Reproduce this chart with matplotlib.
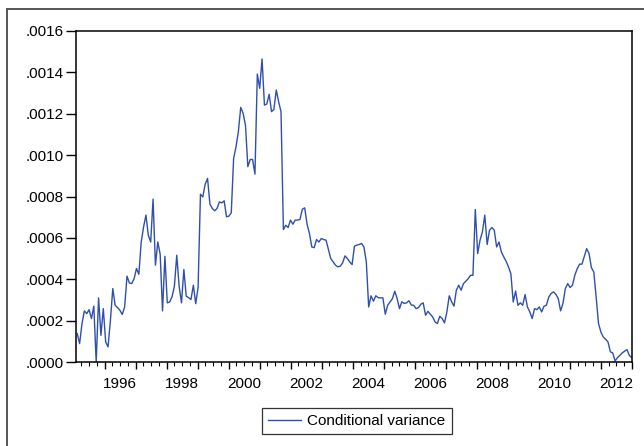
import numpy as np
import matplotlib
matplotlib.use("Agg")
import matplotlib.pyplot as plt
from matplotlib.lines import Line2D
from matplotlib.ticker import FixedLocator, MultipleLocator, FuncFormatter

# ---- data (conditional variance, in units of 1e-4) ----
variance_e4 = [
    1.37, 0.89, 1.85, 2.47, 2.34, 2.53, 2.10, 2.70, 0.00, 3.10, 1.29, 2.58, 0.97, 0.73, 2.00,
    3.55, 2.74, 2.63, 2.50, 2.30, 2.66, 4.15, 3.82, 3.79, 4.03, 4.52, 4.24, 5.80, 6.53, 7.10,
    6.13, 5.80, 7.87, 4.68, 5.80, 5.21, 2.47, 5.11, 2.86, 2.90, 3.15, 3.66, 5.16, 3.66, 2.86,
    4.47, 3.18, 3.11, 3.02, 3.71, 2.82, 3.60, 8.11, 7.98, 8.60, 8.87, 7.63, 7.42, 7.31, 7.42,
    7.74, 7.69, 7.79, 7.02, 7.05, 7.21, 9.84, 10.40, 11.13, 12.31, 12.02, 11.45, 9.44, 9.79,
    9.79, 9.08,
    13.92, 13.23, 14.65, 12.42, 12.47, 12.94, 12.10, 12.21, 13.15, 12.58, 12.10, 6.40, 6.61,
    6.50, 6.86, 6.66, 6.86, 6.86, 6.89, 7.39, 7.45, 6.66, 6.21, 5.56, 5.53, 5.92, 5.80, 5.97,
    5.92, 5.89, 5.44, 5.00, 4.84, 4.68, 4.60, 4.63, 4.79, 5.13, 5.00, 4.84, 4.71, 5.60, 5.65,
    5.68, 5.73, 5.56, 4.84, 2.66, 3.20, 2.94, 3.20, 3.11, 3.10, 3.10, 2.31, 2.74, 2.90, 3.06,
    3.42,
    3.07, 2.58, 2.91, 2.83, 2.86, 2.96, 2.75, 2.74, 2.58, 2.63, 2.79, 2.86, 2.26, 2.45, 2.31,
    2.18, 1.94, 1.86, 2.21, 2.10, 1.89, 2.42, 3.20, 2.91, 2.70, 3.47, 3.71, 3.47, 3.79, 3.90,
    4.03, 4.19, 4.19, 7.37, 5.24, 5.89, 6.29, 7.10, 5.68, 6.37, 6.50, 6.37, 5.56, 5.80, 5.32,
    5.08, 4.87, 4.60, 4.27, 2.90, 3.43, 2.74, 2.86, 2.74, 3.26, 2.66, 2.42, 2.10, 2.58, 2.53,
    2.66, 2.42, 2.70, 2.74, 3.14, 3.31, 3.39, 3.27, 3.07, 2.47, 2.83, 3.55, 3.79, 3.60, 3.71,
    4.19, 4.51, 4.73, 4.73, 5.11, 5.48, 5.24, 4.56, 4.35, 3.14, 1.86, 1.45, 1.21, 1.10, 0.97,
    0.49, 0.44, 0.05, 0.21, 0.32, 0.44, 0.52, 0.60, 0.32, 0.21,
]
series_start = 1995.12
series_end = 2012.99
label_years = [1996, 1998, 2000, 2002, 2004, 2006, 2008, 2010, 2012]
tick_labels = ["1996", "1998", "2000", "2002", "2004", "2006", "2008", "2010", "2012"]
y_ticks = [0.0, 0.0002, 0.0004, 0.0006, 0.0008, 0.0010, 0.0012, 0.0014, 0.0016]
legend_label = "Conditional variance"

variance = np.array(variance_e4) * 1e-4
t = np.linspace(series_start, series_end, len(variance))

plt.rcParams['font.family'] = ['Liberation Sans', 'DejaVu Sans']
FS = 11

fig = plt.figure(figsize=(6.44, 4.46), dpi=100)
W, H = 644, 446
ax = fig.add_axes([76 / W, 1 - 362 / H, (632 - 76) / W, (362 - 31) / H])

line, = ax.plot(t, variance, color='#2f4fae', lw=1.0, label=legend_label)

ax.set_xlim(1995.08, 2013.0)
ax.set_ylim(0, 0.0016)

# y axis
ax.yaxis.set_major_locator(FixedLocator(y_ticks))
ax.yaxis.set_major_formatter(FuncFormatter(lambda v, p: ("%.4f" % v)[1:]))
ax.tick_params(axis='y', direction='out', length=7, width=1, pad=2, labelsize=FS, colors='black')

# x axis: major ticks each year, minor each quarter, labels centred in even years
ax.xaxis.set_major_locator(MultipleLocator(1))
ax.xaxis.set_minor_locator(MultipleLocator(0.25))
ax.tick_params(axis='x', which='major', direction='out', length=5, width=1, labelbottom=False)
ax.tick_params(axis='x', which='minor', direction='out', length=3, width=0.8)

sec = ax.secondary_xaxis('bottom')
sec.set_xticks([y + 0.5 for y in label_years], labels=tick_labels)
sec.tick_params(length=0, pad=11, labelsize=FS)
sec.spines['bottom'].set_visible(False)

for s in ax.spines.values():
    s.set_color('black')
    s.set_linewidth(1.1)

leg = fig.legend(handles=[line], labels=[legend_label], loc='center',
                 bbox_to_anchor=(357 / W, 1 - 421 / H), frameon=True, fancybox=False,
                 shadow=False, fontsize=FS, handlelength=2.1, handletextpad=0.45,
                 borderpad=0.42, borderaxespad=0)
leg.get_frame().set_edgecolor('black')
leg.get_frame().set_linewidth(0.9)

# outer frame (left and top edges visible)
fig.add_artist(Line2D([7 / W, 7 / W], [0, 1 - 9 / H], transform=fig.transFigure,
                      color='#555555', lw=1.4))
fig.add_artist(Line2D([7 / W, 1], [1 - 9 / H, 1 - 9 / H], transform=fig.transFigure,
                      color='#555555', lw=1.4))

fig.savefig('out.png', dpi=100)
